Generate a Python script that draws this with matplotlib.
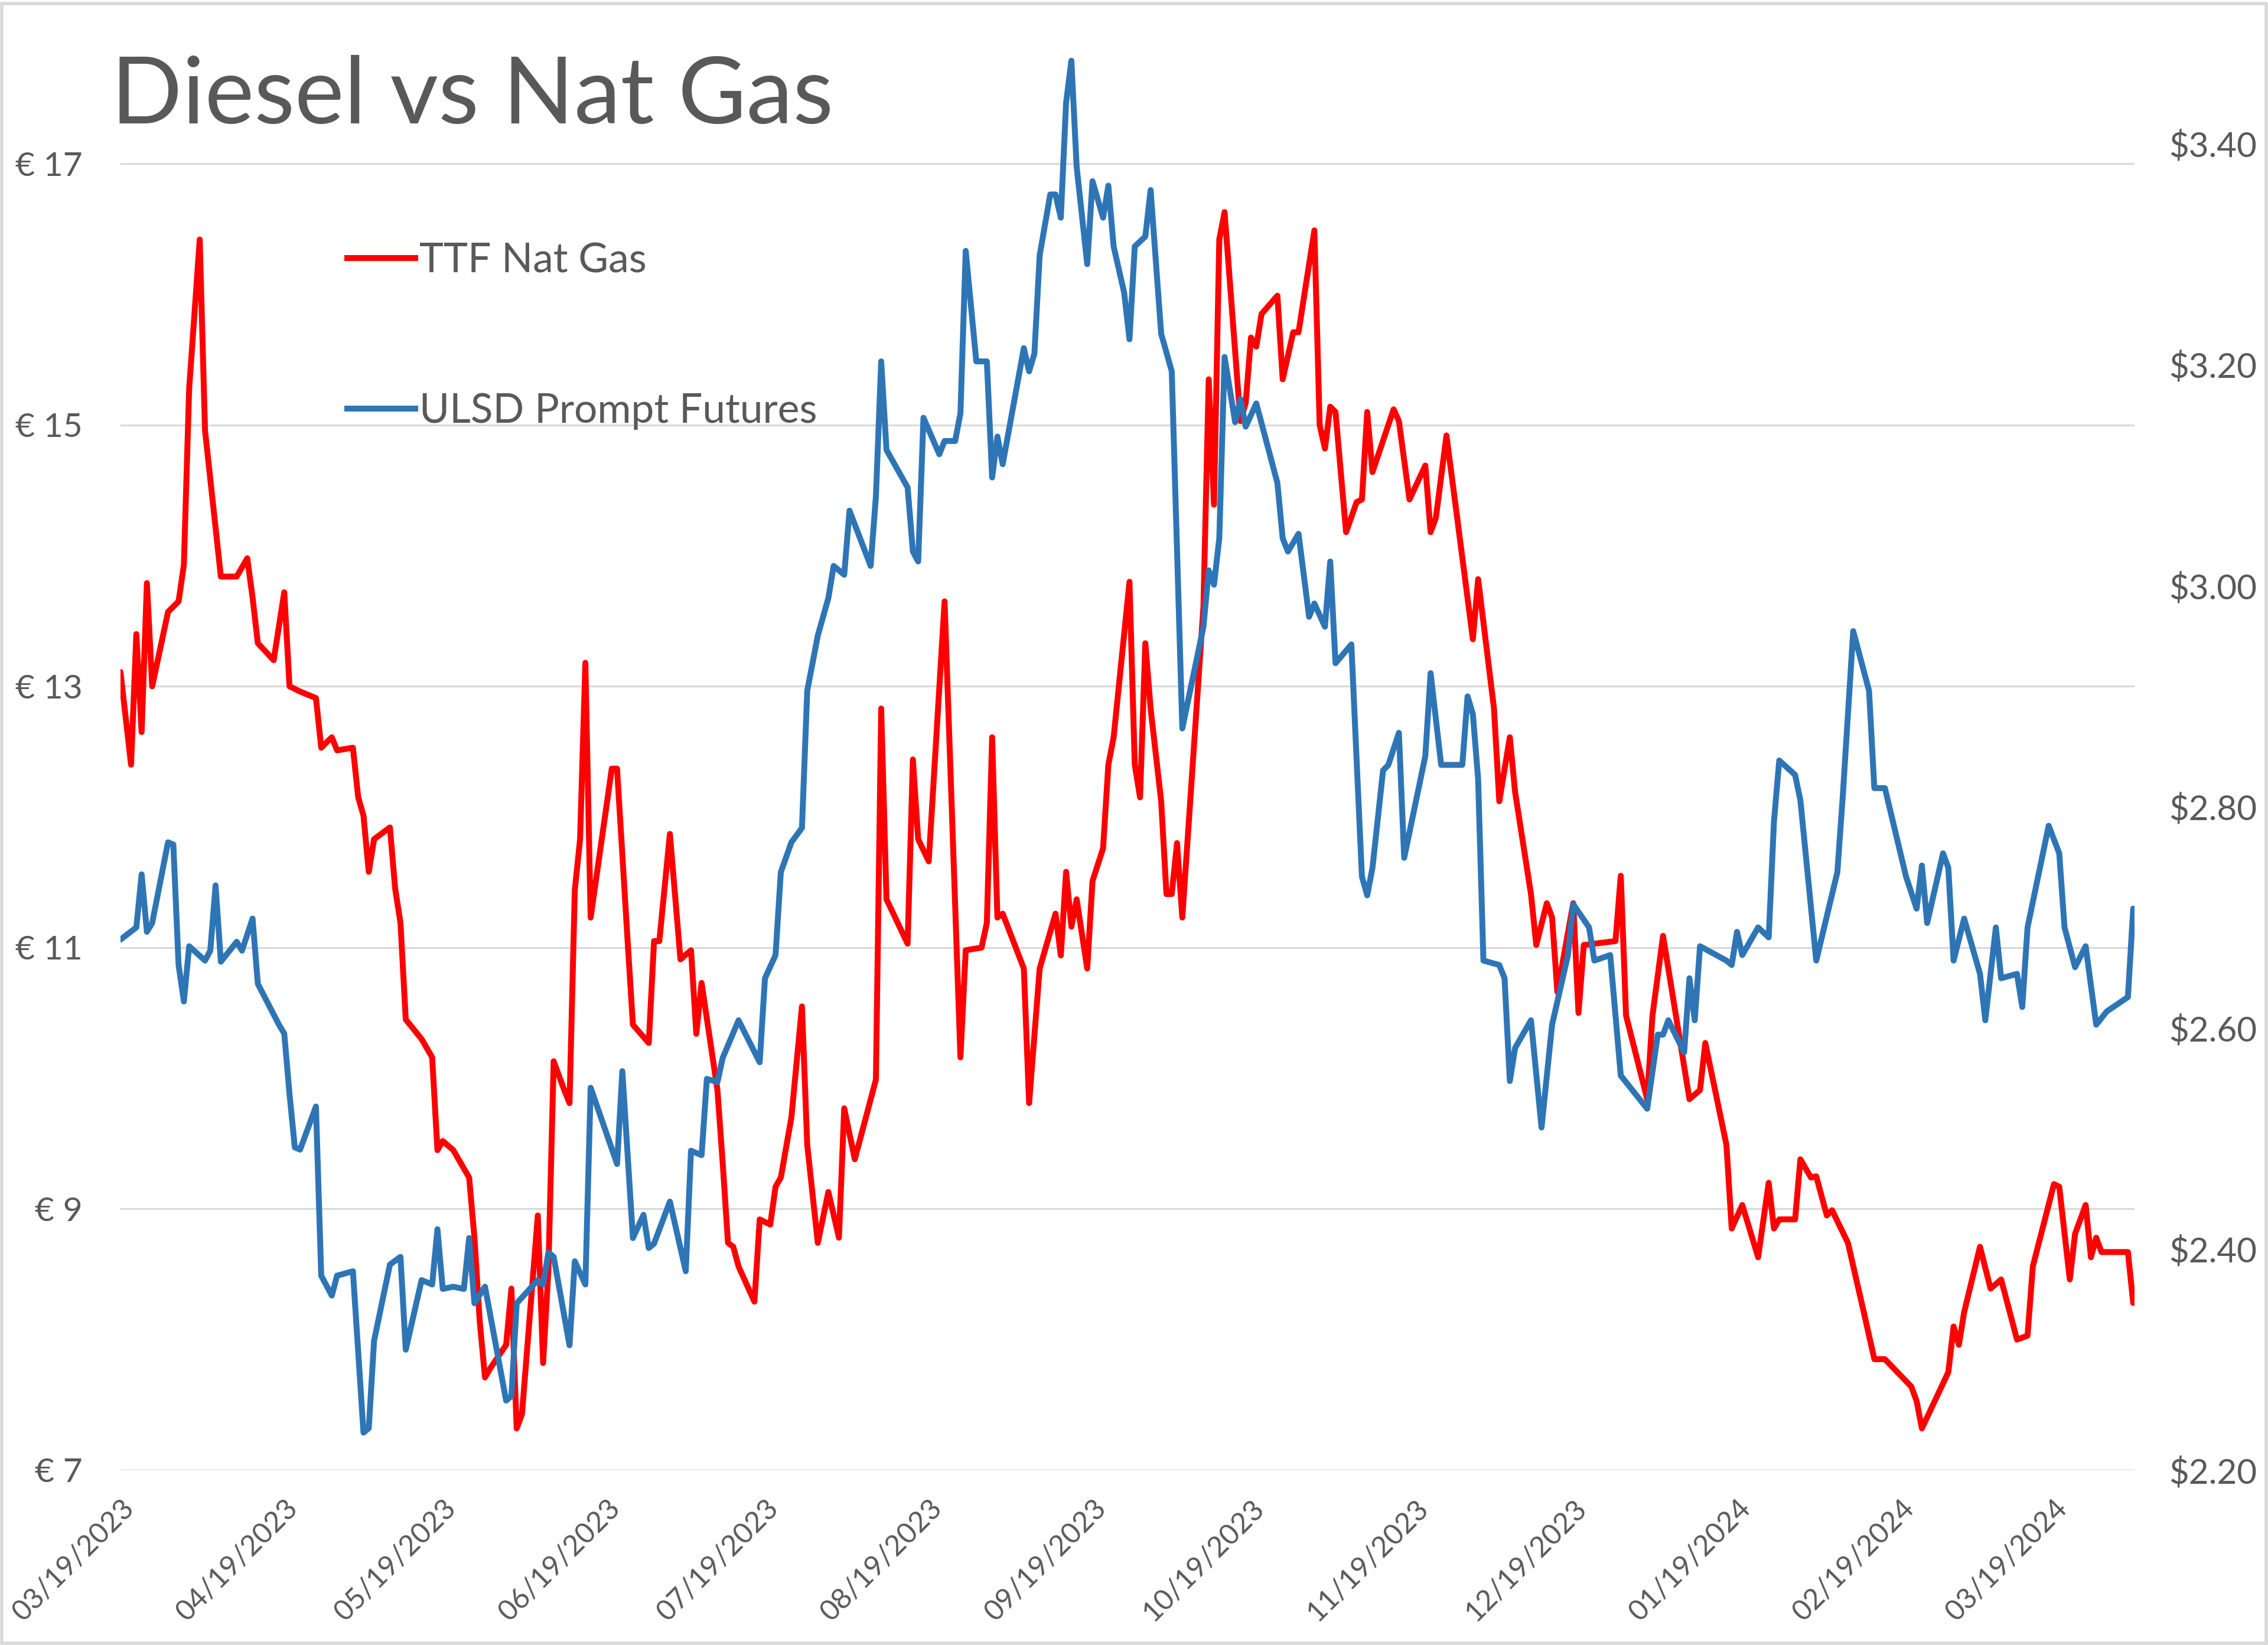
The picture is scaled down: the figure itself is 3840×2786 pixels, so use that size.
import matplotlib
matplotlib.use("Agg")
import matplotlib.pyplot as plt
import matplotlib.dates as mdates
import pandas as pd
from matplotlib.lines import Line2D
from matplotlib.patches import Rectangle
from matplotlib.ticker import FuncFormatter, FixedLocator

plt.rcParams['font.family'] = ['Lato', 'DejaVu Sans']

# ---------------- data ----------------
ttf_dates = [
    '2023-03-19', '2023-03-21', '2023-03-22', '2023-03-23', '2023-03-24', '2023-03-25', '2023-03-28', '2023-03-30', '2023-03-31',
    '2023-04-01', '2023-04-03', '2023-04-04', '2023-04-07', '2023-04-10', '2023-04-12', '2023-04-13', '2023-04-14', '2023-04-17', '2023-04-19', '2023-04-20', '2023-04-22', '2023-04-25', '2023-04-26', '2023-04-28', '2023-04-29',
    '2023-05-02', '2023-05-03', '2023-05-04', '2023-05-05', '2023-05-06', '2023-05-09', '2023-05-10', '2023-05-11', '2023-05-12', '2023-05-15', '2023-05-17', '2023-05-18', '2023-05-19', '2023-05-21', '2023-05-24', '2023-05-25', '2023-05-26', '2023-05-27', '2023-05-28', '2023-05-31',
    '2023-06-01', '2023-06-02', '2023-06-03', '2023-06-06', '2023-06-07', '2023-06-08', '2023-06-09', '2023-06-11', '2023-06-12', '2023-06-13', '2023-06-14', '2023-06-15', '2023-06-16', '2023-06-20', '2023-06-21', '2023-06-23', '2023-06-24', '2023-06-27', '2023-06-28', '2023-06-29',
    '2023-07-01', '2023-07-03', '2023-07-05', '2023-07-06', '2023-07-07', '2023-07-10', '2023-07-11', '2023-07-12', '2023-07-13', '2023-07-14', '2023-07-17', '2023-07-18', '2023-07-20', '2023-07-21', '2023-07-22', '2023-07-24', '2023-07-26', '2023-07-27', '2023-07-29', '2023-07-31',
    '2023-08-02', '2023-08-03', '2023-08-05', '2023-08-09', '2023-08-10', '2023-08-11', '2023-08-15', '2023-08-16', '2023-08-17', '2023-08-19', '2023-08-22', '2023-08-25', '2023-08-26', '2023-08-29', '2023-08-30', '2023-08-31',
    '2023-09-01', '2023-09-02', '2023-09-06', '2023-09-07', '2023-09-09', '2023-09-12', '2023-09-13', '2023-09-14', '2023-09-15', '2023-09-16', '2023-09-18', '2023-09-19', '2023-09-21', '2023-09-22', '2023-09-23', '2023-09-26', '2023-09-27', '2023-09-28', '2023-09-29', '2023-09-30',
    '2023-10-02', '2023-10-03', '2023-10-04', '2023-10-05', '2023-10-06', '2023-10-10', '2023-10-11', '2023-10-12', '2023-10-13', '2023-10-14', '2023-10-17', '2023-10-18', '2023-10-19', '2023-10-20', '2023-10-21', '2023-10-24', '2023-10-25', '2023-10-27', '2023-10-28', '2023-10-31',
    '2023-11-01', '2023-11-02', '2023-11-03', '2023-11-04', '2023-11-06', '2023-11-08', '2023-11-09', '2023-11-10', '2023-11-11', '2023-11-15', '2023-11-16', '2023-11-18', '2023-11-21', '2023-11-22', '2023-11-23', '2023-11-25', '2023-11-27', '2023-11-30',
    '2023-12-01', '2023-12-04', '2023-12-05', '2023-12-07', '2023-12-08', '2023-12-11', '2023-12-12', '2023-12-14', '2023-12-15', '2023-12-16', '2023-12-19', '2023-12-20', '2023-12-21', '2023-12-27', '2023-12-28', '2023-12-29',
    '2024-01-02', '2024-01-03', '2024-01-05', '2024-01-08', '2024-01-10', '2024-01-12', '2024-01-13', '2024-01-17', '2024-01-18', '2024-01-20', '2024-01-23', '2024-01-25', '2024-01-26', '2024-01-27', '2024-01-30', '2024-01-31',
    '2024-02-02', '2024-02-03', '2024-02-05', '2024-02-06', '2024-02-09', '2024-02-12', '2024-02-14', '2024-02-16', '2024-02-21', '2024-02-22', '2024-02-23', '2024-02-28', '2024-02-29',
    '2024-03-01', '2024-03-02', '2024-03-05', '2024-03-07', '2024-03-09', '2024-03-12', '2024-03-14', '2024-03-15', '2024-03-19', '2024-03-20', '2024-03-22', '2024-03-23', '2024-03-25', '2024-03-26', '2024-03-27', '2024-03-28',
    '2024-04-02', '2024-04-03',
]
ttf_values = [
    13.11, 12.40, 13.40, 12.65, 13.79, 13.00, 13.57, 13.65, 13.93,
    15.28, 16.42, 14.96, 13.84, 13.84, 13.98, 13.68, 13.33, 13.20, 13.72, 13.00, 12.96, 12.91, 12.53, 12.61, 12.51,
    12.53, 12.15, 12.01, 11.58, 11.83, 11.92, 11.45, 11.19, 10.45, 10.30, 10.16, 9.45, 9.52, 9.45, 9.24, 8.78, 8.14, 7.71, 7.78, 7.96,
    8.39, 7.32, 7.43, 8.95, 7.82, 8.53, 10.13, 9.91, 9.81, 11.44, 11.83, 13.18, 11.23, 12.37, 12.37, 11.05, 10.41, 10.27, 11.05, 11.05,
    11.87, 10.91, 10.98, 10.34, 10.73, 9.91, 9.35, 8.74, 8.71, 8.56, 8.29, 8.92, 8.88, 9.17, 9.24, 9.70, 10.55, 9.49, 8.74, 9.13,
    8.78, 9.77, 9.38, 9.99, 12.83, 11.37, 11.03, 12.44, 11.83, 11.66, 13.65, 10.16, 10.98, 11.00, 11.19, 12.61,
    11.23, 11.26, 10.84, 9.81, 10.84, 11.26, 10.94, 11.58, 11.16, 11.37, 10.84, 11.51, 11.76, 12.40, 12.61, 13.80, 12.40, 12.15, 13.33, 12.83,
    12.12, 11.41, 11.41, 11.80, 11.23, 13.61, 15.35, 14.39, 16.42, 16.63, 15.03, 15.17, 15.67, 15.60, 15.85, 15.99, 15.35, 15.71, 15.71, 16.49,
    15.00, 14.82, 15.14, 15.10, 14.18, 14.41, 14.43, 15.10, 14.64, 15.12, 15.03, 14.43, 14.69, 14.18, 14.29, 14.92, 14.30, 13.36,
    13.82, 12.83, 12.12, 12.61, 12.19, 11.41, 11.02, 11.34, 11.23, 10.66, 11.34, 10.50, 11.02, 11.05, 11.55, 10.48,
    9.84, 10.48, 11.09, 10.34, 9.84, 9.91, 10.27, 9.49, 8.85, 9.03, 8.63, 9.20, 8.85, 8.92, 8.92, 9.38,
    9.24, 9.25, 8.95, 8.99, 8.74, 8.21, 7.85, 7.85, 7.64, 7.53, 7.32, 7.75, 8.10,
    7.96, 8.21, 8.71, 8.39, 8.46, 8.00, 8.03, 8.56, 9.19, 9.17, 8.46, 8.81, 9.03, 8.63, 8.78, 8.67,
    8.67, 8.28,
]

ulsd_dates = [
    '2023-03-19', '2023-03-22', '2023-03-23', '2023-03-24', '2023-03-25', '2023-03-28', '2023-03-29', '2023-03-30', '2023-03-31',
    '2023-04-01', '2023-04-04', '2023-04-05', '2023-04-06', '2023-04-07', '2023-04-10', '2023-04-11', '2023-04-13', '2023-04-14', '2023-04-18', '2023-04-19', '2023-04-20', '2023-04-21', '2023-04-22', '2023-04-25', '2023-04-26', '2023-04-28', '2023-04-29',
    '2023-05-02', '2023-05-04', '2023-05-05', '2023-05-06', '2023-05-09', '2023-05-11', '2023-05-12', '2023-05-15', '2023-05-17', '2023-05-18', '2023-05-19', '2023-05-21', '2023-05-23', '2023-05-24', '2023-05-25', '2023-05-27', '2023-05-31',
    '2023-06-01', '2023-06-02', '2023-06-06', '2023-06-07', '2023-06-08', '2023-06-09', '2023-06-12', '2023-06-13', '2023-06-15', '2023-06-16', '2023-06-21', '2023-06-22', '2023-06-24', '2023-06-26', '2023-06-27', '2023-06-28',
    '2023-07-01', '2023-07-04', '2023-07-05', '2023-07-07', '2023-07-08', '2023-07-10', '2023-07-11', '2023-07-14', '2023-07-18', '2023-07-19', '2023-07-21', '2023-07-22', '2023-07-24', '2023-07-26', '2023-07-27', '2023-07-29', '2023-07-31',
    '2023-08-01', '2023-08-03', '2023-08-04', '2023-08-08', '2023-08-09', '2023-08-10', '2023-08-11', '2023-08-15', '2023-08-16', '2023-08-17', '2023-08-18', '2023-08-21', '2023-08-22', '2023-08-24', '2023-08-25', '2023-08-26', '2023-08-28', '2023-08-30', '2023-08-31',
    '2023-09-01', '2023-09-02', '2023-09-06', '2023-09-07', '2023-09-08', '2023-09-09', '2023-09-11', '2023-09-12', '2023-09-13', '2023-09-14', '2023-09-15', '2023-09-16', '2023-09-18', '2023-09-19', '2023-09-21', '2023-09-22', '2023-09-23', '2023-09-25', '2023-09-26', '2023-09-27', '2023-09-29', '2023-09-30',
    '2023-10-02', '2023-10-04', '2023-10-06', '2023-10-10', '2023-10-11', '2023-10-12', '2023-10-13', '2023-10-14', '2023-10-16', '2023-10-17', '2023-10-18', '2023-10-20', '2023-10-24', '2023-10-25', '2023-10-26', '2023-10-28', '2023-10-30', '2023-10-31',
    '2023-11-02', '2023-11-03', '2023-11-04', '2023-11-07', '2023-11-09', '2023-11-10', '2023-11-11', '2023-11-13', '2023-11-14', '2023-11-16', '2023-11-17', '2023-11-21', '2023-11-22', '2023-11-24', '2023-11-28', '2023-11-29', '2023-11-30',
    '2023-12-01', '2023-12-02', '2023-12-05', '2023-12-06', '2023-12-07', '2023-12-08', '2023-12-11', '2023-12-13', '2023-12-15', '2023-12-18', '2023-12-19', '2023-12-22', '2023-12-23', '2023-12-26', '2023-12-28',
    '2024-01-02', '2024-01-04', '2024-01-05', '2024-01-06', '2024-01-09', '2024-01-10', '2024-01-11', '2024-01-12', '2024-01-17', '2024-01-18', '2024-01-19', '2024-01-20', '2024-01-23', '2024-01-25', '2024-01-26', '2024-01-27', '2024-01-30', '2024-01-31',
    '2024-02-03', '2024-02-07', '2024-02-08', '2024-02-10', '2024-02-13', '2024-02-14', '2024-02-16', '2024-02-20', '2024-02-22', '2024-02-23', '2024-02-24', '2024-02-27', '2024-02-28', '2024-02-29',
    '2024-03-02', '2024-03-05', '2024-03-06', '2024-03-08', '2024-03-09', '2024-03-12', '2024-03-13', '2024-03-14', '2024-03-18', '2024-03-20', '2024-03-21', '2024-03-23', '2024-03-25', '2024-03-27', '2024-03-29',
    '2024-04-02', '2024-04-03',
]
ulsd_values = [
    2.680, 2.691, 2.739, 2.687, 2.695, 2.768, 2.766, 2.657, 2.624,
    2.674, 2.661, 2.670, 2.729, 2.660, 2.678, 2.670, 2.699, 2.640, 2.603, 2.595, 2.540, 2.492, 2.490, 2.529, 2.376, 2.358, 2.376,
    2.380, 2.234, 2.238, 2.317, 2.386, 2.393, 2.309, 2.372, 2.368, 2.418, 2.364, 2.366, 2.364, 2.410, 2.351, 2.366, 2.263,
    2.267, 2.351, 2.372, 2.368, 2.397, 2.393, 2.313, 2.389, 2.368, 2.546, 2.477, 2.561, 2.410, 2.431, 2.401, 2.405,
    2.443, 2.380, 2.489, 2.485, 2.554, 2.551, 2.573, 2.607, 2.569, 2.645, 2.666, 2.741, 2.768, 2.781, 2.905, 2.955, 2.989,
    3.018, 3.010, 3.068, 3.018, 3.081, 3.203, 3.123, 3.089, 3.031, 3.022, 3.152, 3.119, 3.131, 3.131, 3.156, 3.303, 3.203, 3.203, 3.098,
    3.135, 3.110, 3.215, 3.194, 3.210, 3.299, 3.354, 3.354, 3.333, 3.437, 3.475, 3.379, 3.291, 3.366, 3.333, 3.362, 3.307, 3.265, 3.223, 3.307, 3.316, 3.358,
    3.228, 3.194, 2.871, 2.963, 3.014, 3.001, 3.043, 3.207, 3.148, 3.169, 3.144, 3.165, 3.093, 3.043, 3.031, 3.047, 2.972, 2.984,
    2.963, 3.022, 2.930, 2.947, 2.737, 2.720, 2.745, 2.833, 2.838, 2.867, 2.754, 2.846, 2.921, 2.838, 2.838, 2.900, 2.884,
    2.825, 2.661, 2.657, 2.645, 2.552, 2.582, 2.607, 2.510, 2.603, 2.666, 2.712, 2.691, 2.661, 2.666, 2.557,
    2.527, 2.594, 2.594, 2.607, 2.578, 2.645, 2.607, 2.674, 2.661, 2.657, 2.687, 2.666, 2.691, 2.682, 2.787, 2.842, 2.829, 2.806,
    2.661, 2.741, 2.808, 2.959, 2.905, 2.817, 2.817, 2.737, 2.708, 2.747, 2.695, 2.758, 2.745, 2.661,
    2.699, 2.649, 2.607, 2.691, 2.645, 2.649, 2.619, 2.691, 2.783, 2.758, 2.691, 2.655, 2.674, 2.603, 2.615,
    2.628, 2.708,
]

series_labels = ['TTF Nat Gas', 'ULSD Prompt Futures']
title_text = 'Diesel vs Nat Gas'
left_ticks = [7, 9, 11, 13, 15, 17]
right_ticks = [2.20, 2.40, 2.60, 2.80, 3.00, 3.20, 3.40]
month_ticks = ['2023-03-19', '2023-04-19', '2023-05-19', '2023-06-19', '2023-07-19', '2023-08-19',
               '2023-09-19', '2023-10-19', '2023-11-19', '2023-12-19', '2024-01-19', '2024-02-19', '2024-03-19']

# ---------------- style ----------------
RED = '#FF0000'
BLUE = '#2E75B6'
TXT = '#595959'
GRID = '#D9D9D9'
LW = 3.6

W, H = 3840, 2786
DPI = 200
fig = plt.figure(figsize=(W / DPI, H / DPI), dpi=DPI)
fig.patch.set_facecolor('white')

x0, x1 = 204, 3614
y_top, y_bot = 56, 2490
ax = fig.add_axes([x0 / W, 1 - y_bot / H, (x1 - x0) / W, (y_bot - y_top) / H])
ax2 = ax.twinx()

td = pd.to_datetime(ttf_dates)
ud = pd.to_datetime(ulsd_dates)

ax.plot(td, ttf_values, color=RED, lw=LW, solid_joinstyle='round', solid_capstyle='round', zorder=3)
ax2.plot(ud, ulsd_values, color=BLUE, lw=LW, solid_joinstyle='round', solid_capstyle='round', zorder=3)

ax.set_ylim(7, 18)
ax2.set_ylim(2.2, 3.5)
ax.set_xlim(pd.Timestamp('2023-03-19'), pd.Timestamp('2024-04-03 06:00'))

ax.yaxis.set_major_locator(FixedLocator(left_ticks))
ax.yaxis.set_major_formatter(FuncFormatter(lambda v, p: '\u20ac %d' % round(v)))
ax2.yaxis.set_major_locator(FixedLocator(right_ticks))
ax2.yaxis.set_major_formatter(FuncFormatter(lambda v, p: '$%.2f' % v))

ax.grid(axis='y', color=GRID, lw=1.1, zorder=0)
ax.set_axisbelow(True)

ax.set_xticks(pd.to_datetime(month_ticks))
ax.xaxis.set_major_formatter(mdates.DateFormatter('%m/%d/%Y'))

for a in (ax, ax2):
    for s in a.spines.values():
        s.set_visible(False)
    a.tick_params(length=0, colors=TXT)

ax.tick_params(axis='y', labelsize=20.5, pad=23)
ax2.tick_params(axis='y', labelsize=21, pad=21)
ax.tick_params(axis='x', labelsize=17.5, pad=15)
for lab in ax.get_xticklabels():
    lab.set_rotation(45)
    lab.set_ha('right')
    lab.set_va('top')
    lab.set_rotation_mode('anchor')

# legend
handles = [Line2D([0], [0], color=RED, lw=LW), Line2D([0], [0], color=BLUE, lw=LW)]
leg = ax2.legend(handles, series_labels, loc='upper left',
                 bbox_to_anchor=(588 / W, 1 - 410 / H), bbox_transform=fig.transFigure,
                 frameon=False, fontsize=25, labelspacing=2.77, handlelength=1.65,
                 handletextpad=0.1, borderpad=0, borderaxespad=0)
for t in leg.get_texts():
    t.set_color(TXT)

# title
fig.text(188 / W, 1 - 209 / H, title_text, ha='left', va='baseline',
         fontsize=57, color=TXT)

# chart border
fig.patches.append(Rectangle((0.0008, 0.001), 0.9984, 0.997, transform=fig.transFigure,
                             fill=False, edgecolor='#D9D9D9', lw=2.0))

fig.savefig('out.png', dpi=DPI, facecolor='white')
